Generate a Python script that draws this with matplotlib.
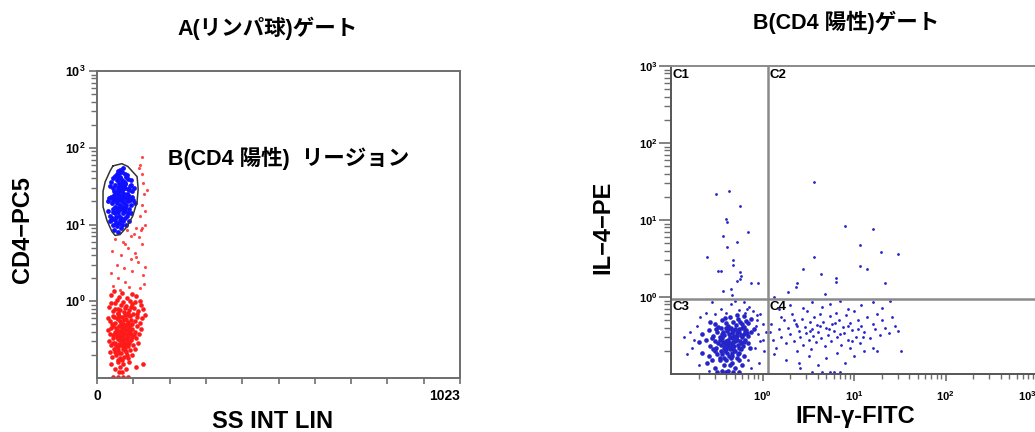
import numpy as np
import matplotlib
matplotlib.use("Agg")
from matplotlib import pyplot as plt
from matplotlib.ticker import FixedLocator, NullFormatter

plt.rcParams['font.family'] = ['Liberation Sans', 'Noto Sans CJK JP', 'DejaVu Sans']
plt.rcParams['font.weight'] = 'bold'
plt.rcParams['mathtext.fontset'] = 'custom'
plt.rcParams['mathtext.rm'] = 'Liberation Sans:bold'
plt.rcParams['mathtext.bf'] = 'Liberation Sans:bold'

# ---- panel A : SS INT LIN vs CD4-PC5 ----
title_a = "A(リンパ球)ゲート"
xlabel_a = "SS INT LIN"
ylabel_a = "CD4\u2212PC5"
region_label = "B(CD4 陽性)  リージョン"
xticks_a = [0, 102.3, 204.6, 306.9, 409.2, 511.5, 613.8, 716.1, 818.4, 920.7, 1023]
xticklabels_a = ["0", "", "", "", "", "", "", "", "", "", "1023"]
log_ticks = [1, 10, 100, 1000]
log_ticklabels = [r"$\mathbf{10^{0}}$", r"$\mathbf{10^{1}}$", r"$\mathbf{10^{2}}$", r"$\mathbf{10^{3}}$"]

# gate polygon drawn around the CD4+ cells
gate_b = [(45, 58), (70, 62), (87, 57), (113, 42), (116, 29), (113, 20), (101, 13),
          (85, 9.4), (65, 7.4), (51, 7.2), (42, 8.1), (28, 11.3), (17, 17), (17, 27),
          (23, 36), (37, 50), (45, 58)]

# CD4 positive events (blue)
cd4_pos = [
    (60, 50), (70, 48), (78, 46), (55, 45), (66, 52), (85, 44), (74, 54), (62, 47),
    (45, 40), (55, 38), (66, 42), (76, 36), (88, 39), (50, 43), (62, 35), (82, 41),
    (72, 37), (40, 36), (95, 38), (58, 41), (68, 39), (80, 35),
    (45, 30), (52, 33), (60, 28), (68, 31), (74, 26), (80, 34), (86, 29), (92, 32),
    (100, 27), (104, 30), (56, 26), (64, 34), (72, 29), (84, 25), (96, 33), (48, 27),
    (78, 30), (90, 28), (62, 31), (70, 33), (38, 32), (58, 30), (66, 27), (76, 32),
    (35, 22), (42, 19), (48, 24), (54, 20), (58, 23), (64, 18), (68, 21), (72, 24),
    (76, 19), (80, 22), (86, 20), (90, 23), (96, 18), (102, 21), (108, 19), (40, 23),
    (50, 17), (60, 21), (70, 20), (82, 18), (88, 24), (94, 21), (62, 24), (74, 22),
    (56, 19), (46, 21), (66, 23), (78, 17), (84, 21), (98, 23), (30, 20), (52, 22),
    (32, 15), (38, 13), (44, 16), (50, 14), (56, 15), (62, 13), (66, 16), (72, 14),
    (78, 15), (84, 13), (90, 16), (96, 14), (42, 12), (54, 12.5), (68, 12), (80, 16.5),
    (58, 16.5), (74, 15.5), (46, 14.5), (88, 14), (60, 14.5), (70, 17),
    (36, 11), (44, 10), (50, 11.5), (56, 9.5), (62, 10.5), (68, 9), (74, 11), (82, 10),
    (90, 11), (48, 8.5), (60, 8), (70, 10), (78, 12), (40, 11.5), (64, 11.5), (54, 10.5),
]

# CD4 negative events (red), dense lower population
cd4_neg = [
    (40, 1.2), (55, 1.05), (70, 1.3), (85, 1.1), (100, 1.25), (120, 1.0), (62, 1.15),
    (48, 1.35), (92, 1.02), (110, 1.18),
    (35, 0.85), (45, 0.75), (52, 0.95), (60, 0.8), (68, 0.9), (75, 0.72), (82, 0.88),
    (90, 0.78), (98, 0.93), (105, 0.82), (115, 0.74), (125, 0.9), (130, 0.8), (40, 0.95),
    (58, 0.7), (72, 0.98), (88, 0.7), (108, 0.97), (64, 0.76), (95, 0.85), (50, 0.8),
    (78, 0.82),
    (30, 0.6), (38, 0.55), (44, 0.65), (50, 0.52), (55, 0.6), (60, 0.68), (65, 0.55),
    (70, 0.62), (74, 0.5), (78, 0.66), (82, 0.58), (88, 0.53), (92, 0.64), (97, 0.57),
    (102, 0.69), (108, 0.55), (114, 0.62), (120, 0.52), (128, 0.6), (134, 0.66),
    (42, 0.5), (58, 0.58), (68, 0.52), (76, 0.57), (86, 0.67), (100, 0.5), (112, 0.68),
    (48, 0.62), (62, 0.64), (84, 0.51),
    (32, 0.42), (38, 0.38), (44, 0.47), (50, 0.4), (54, 0.45), (58, 0.36), (62, 0.48),
    (66, 0.41), (70, 0.37), (72, 0.44), (76, 0.39), (80, 0.46), (84, 0.36), (88, 0.42),
    (92, 0.49), (96, 0.38), (100, 0.44), (106, 0.4), (112, 0.47), (118, 0.37),
    (124, 0.43), (46, 0.36), (56, 0.42), (64, 0.38), (68, 0.46), (74, 0.35), (78, 0.42),
    (82, 0.49), (86, 0.39), (90, 0.45), (60, 0.4), (52, 0.37), (94, 0.41), (70, 0.49),
    (104, 0.36), (40, 0.45),
    (34, 0.3), (40, 0.27), (46, 0.33), (50, 0.29), (54, 0.26), (58, 0.32), (62, 0.28),
    (66, 0.34), (70, 0.3), (74, 0.26), (78, 0.32), (82, 0.28), (86, 0.34), (90, 0.29),
    (96, 0.31), (102, 0.27), (110, 0.33), (116, 0.29), (60, 0.25), (72, 0.33),
    (80, 0.25), (64, 0.31), (56, 0.34), (76, 0.29), (88, 0.26), (44, 0.29), (68, 0.27),
    (84, 0.31), (98, 0.34),
    (36, 0.22), (42, 0.19), (48, 0.24), (54, 0.2), (60, 0.23), (64, 0.18), (68, 0.21),
    (72, 0.24), (76, 0.19), (82, 0.22), (88, 0.18), (94, 0.23), (100, 0.2), (108, 0.24),
    (58, 0.17), (70, 0.17), (84, 0.2), (52, 0.22), (78, 0.23), (62, 0.21),
    (40, 0.15), (50, 0.13), (58, 0.16), (66, 0.14), (74, 0.15), (82, 0.13), (90, 0.16),
    (110, 0.14), (62, 0.12), (70, 0.12), (130, 0.15),
    (45, 0.102), (58, 0.102), (72, 0.102), (88, 0.102),
]

# sparse red events between and around the two populations
cd4_mid = [
    (45, 1.6), (60, 2.0), (80, 1.8), (100, 2.5), (120, 1.5), (130, 2.2), (55, 3.0),
    (75, 2.7), (95, 3.5), (115, 3.2), (135, 2.8), (42, 4.5), (68, 4.0), (88, 5.0),
    (108, 4.2), (126, 5.5), (50, 6.5), (72, 6.0), (96, 7.0), (118, 6.8), (60, 8.0),
    (85, 8.5), (105, 7.5), (128, 9.0), (40, 2.3), (132, 1.7), (65, 1.4), (90, 1.55),
    (110, 3.8), (78, 5.5),
    (122, 13), (128, 18), (132, 25), (130, 35), (126, 45), (118, 55), (135, 15),
    (140, 28), (125, 8.5), (136, 10), (127, 75), (110, 9), (120, 60),
]

# ---- panel B : IFN-gamma-FITC vs IL-4-PE ----
title_b = "B(CD4 陽性)ゲート"
xlabel_b = "IFN-\u03b3-FITC"
ylabel_b = "IL\u22124\u2212PE"
quad_x = 1.15
quad_y = 0.95
quad_names = ["C1", "C2", "C3", "C4"]

# dense double negative core of C3
c3_core = [
    (0.30, 0.45), (0.36, 0.50), (0.42, 0.42), (0.48, 0.47), (0.54, 0.52), (0.60, 0.44),
    (0.66, 0.49), (0.33, 0.41), (0.39, 0.54), (0.45, 0.40), (0.51, 0.43), (0.57, 0.48),
    (0.63, 0.41), (0.70, 0.46), (0.27, 0.48), (0.44, 0.55), (0.52, 0.58), (0.62, 0.56),
    (0.75, 0.52), (0.40, 0.46),
    (0.22, 0.33), (0.26, 0.37), (0.29, 0.31), (0.32, 0.35), (0.35, 0.39), (0.38, 0.32),
    (0.41, 0.36), (0.44, 0.30), (0.47, 0.34), (0.50, 0.38), (0.53, 0.31), (0.56, 0.35),
    (0.59, 0.39), (0.62, 0.33), (0.66, 0.37), (0.70, 0.31), (0.74, 0.35), (0.80, 0.38),
    (0.34, 0.30), (0.40, 0.39), (0.46, 0.37), (0.52, 0.34), (0.58, 0.32), (0.64, 0.36),
    (0.37, 0.35), (0.43, 0.33), (0.49, 0.31), (0.55, 0.38), (0.31, 0.38), (0.68, 0.34),
    (0.48, 0.36), (0.42, 0.38), (0.54, 0.36), (0.60, 0.30), (0.36, 0.33),
    (0.20, 0.26), (0.24, 0.28), (0.27, 0.23), (0.30, 0.27), (0.33, 0.25), (0.36, 0.29),
    (0.39, 0.24), (0.42, 0.28), (0.45, 0.22), (0.48, 0.26), (0.51, 0.29), (0.54, 0.24),
    (0.57, 0.27), (0.61, 0.23), (0.65, 0.28), (0.69, 0.25), (0.73, 0.22), (0.31, 0.22),
    (0.35, 0.24), (0.40, 0.27), (0.44, 0.25), (0.49, 0.23), (0.53, 0.28), (0.58, 0.25),
    (0.38, 0.22), (0.46, 0.29), (0.34, 0.28), (0.42, 0.23), (0.50, 0.27), (0.55, 0.22),
    (0.28, 0.29), (0.62, 0.26), (0.47, 0.24), (0.37, 0.26), (0.41, 0.25),
    (0.22, 0.19), (0.26, 0.17), (0.29, 0.21), (0.32, 0.18), (0.35, 0.20), (0.38, 0.16),
    (0.41, 0.19), (0.44, 0.21), (0.47, 0.17), (0.50, 0.20), (0.54, 0.18), (0.58, 0.21),
    (0.63, 0.17), (0.34, 0.16), (0.40, 0.21), (0.46, 0.19), (0.52, 0.16), (0.30, 0.20),
    (0.36, 0.18), (0.43, 0.17), (0.48, 0.21), (0.56, 0.19), (0.39, 0.20), (0.45, 0.16),
    (0.25, 0.14), (0.30, 0.12), (0.34, 0.15), (0.38, 0.13), (0.42, 0.11), (0.46, 0.14),
    (0.50, 0.12), (0.55, 0.15), (0.36, 0.11), (0.44, 0.13), (0.40, 0.15), (0.32, 0.105),
    (0.40, 0.105), (0.48, 0.105), (0.56, 0.105), (0.60, 0.13), (0.28, 0.15),
]

# scattered events around the C3 core
c3_outer = [
    (0.16, 0.35), (0.18, 0.28), (0.17, 0.22), (0.19, 0.42), (0.21, 0.55), (0.24, 0.62),
    (0.85, 0.42), (0.90, 0.33), (0.95, 0.27), (1.00, 0.45), (1.05, 0.20), (0.88, 0.58),
    (0.78, 0.65), (0.35, 0.70), (0.45, 0.80), (0.55, 0.68), (0.62, 0.85), (0.72, 0.75),
    (0.28, 0.85), (0.82, 0.22), (0.70, 0.15), (0.20, 0.13), (0.92, 0.14), (1.08, 0.35),
    (0.50, 0.90), (0.40, 0.62), (0.65, 0.62), (0.14, 0.30), (0.15, 0.18), (0.86, 0.50),
    (0.95, 0.60), (0.75, 0.12), (0.26, 0.11), (1.02, 0.28), (0.30, 0.60), (0.68, 0.70),
]

c4_pts = [
    (1.2, 0.35), (1.3, 0.28), (1.25, 0.45), (1.4, 0.22), (1.5, 0.38), (1.6, 0.3),
    (1.7, 0.5), (1.8, 0.25), (1.9, 0.4), (2.0, 0.33), (2.1, 0.6), (2.2, 0.27),
    (2.3, 0.45), (2.4, 0.2), (2.5, 0.36), (2.6, 0.3), (2.7, 0.52), (2.8, 0.24),
    (2.9, 0.41), (3.0, 0.34), (3.1, 0.65), (3.2, 0.28), (3.3, 0.47), (3.4, 0.21),
    (3.5, 0.38), (3.6, 0.31), (3.7, 0.55), (3.8, 0.26), (3.9, 0.43), (4.0, 0.35),
    (4.2, 0.6), (4.4, 0.29), (4.6, 0.48), (4.8, 0.23), (5.0, 0.4), (5.2, 0.32),
    (5.4, 0.56), (5.6, 0.27), (5.8, 0.44), (6.0, 0.36), (6.3, 0.62), (6.6, 0.3),
    (6.9, 0.5), (7.2, 0.24), (7.5, 0.41), (7.8, 0.34), (8.1, 0.58), (8.5, 0.28),
    (9.0, 0.46), (9.5, 0.37), (10, 0.65), (10.5, 0.3), (11, 0.5), (11.5, 0.25),
    (12, 0.42), (13, 0.35), (14, 0.55), (15, 0.29), (16, 0.45), (17, 0.38), (18, 0.6),
    (19, 0.32), (20, 0.5), (22, 0.4), (24, 0.34), (26, 0.55), (28, 0.42), (30, 0.36),
    (1.35, 0.18), (1.8, 0.15), (2.5, 0.14), (3.2, 0.17), (4.0, 0.13), (5.0, 0.16),
    (6.5, 0.19), (8.0, 0.14), (10, 0.17), (13, 0.2), (3.5, 0.105), (4.5, 0.105),
    (5.5, 0.105), (7.0, 0.105), (6.0, 0.105), (2.6, 0.12), (9.0, 0.22), (16, 0.22),
    (1.5, 0.7), (2.0, 0.78), (2.8, 0.72), (3.5, 0.85), (4.5, 0.75), (5.5, 0.82),
    (7.0, 0.9), (8.5, 0.7), (12, 0.78), (16, 0.85), (20, 0.72), (25, 0.88),
    (4.2, 0.42), (5.3, 0.38), (6.2, 0.46), (3.3, 0.36), (2.4, 0.42), (7.0, 0.33),
    (8.5, 0.42), (11, 0.38), (1.6, 0.55), (2.2, 0.5), (9.6, 0.27), (12.5, 0.3),
    (33, 0.2), (18, 0.2),
]

c1_pts = [
    (0.31, 22), (0.43, 24), (0.57, 15), (0.40, 10.3), (0.41, 9.4), (0.70, 7.0),
    (0.37, 6.2), (0.52, 5.2), (0.41, 4.5), (0.25, 3.3), (0.48, 3.0), (0.48, 2.6),
    (0.33, 2.2), (0.35, 2.2), (0.57, 2.1), (0.58, 1.9), (0.53, 1.6), (0.74, 1.5),
    (0.90, 1.5), (0.45, 1.27), (0.37, 1.2), (0.47, 1.05), (0.57, 1.7),
]

c2_pts = [
    (3.7, 31), (7.9, 8.4), (16, 7.6), (11.5, 4.7), (19.5, 3.8), (30, 3.6), (3.7, 3.3),
    (11.5, 2.5), (14, 2.3), (4.4, 2.0), (6.3, 1.76), (6.3, 1.55), (22, 1.5), (2.4, 1.5),
    (2.3, 1.35), (1.9, 1.15), (4.8, 1.1), (1.35, 1.0), (2.8, 2.3),
]

spine_gray = "#6e6e6e"
quad_gray = "#8a8a8a"
red = "#ff1a1a"
blue = "#1010ff"
navy = "#2424c8"


def style_log_axis(axis):
    axis.set_major_locator(FixedLocator(log_ticks))
    axis.set_ticklabels(log_ticklabels)
    axis.set_minor_formatter(NullFormatter())


fig = plt.figure(figsize=(10.35, 4.32), dpi=100)

# ---------------- panel A ----------------
ax1 = fig.add_axes([97 / 1035, 54 / 432, 363 / 1035, 307 / 432])
ax1.set_xlim(0, 1023)
ax1.set_yscale("log")
ax1.set_ylim(0.1, 1000)

pts = np.array(cd4_neg)
ax1.scatter(pts[:, 0], pts[:, 1], s=11, c=red, linewidths=0)
pts = np.array(cd4_mid)
ax1.scatter(pts[:, 0], pts[:, 1], s=5, c=red, linewidths=0, alpha=0.8)
pts = np.array(cd4_pos)
ax1.scatter(pts[:, 0], pts[:, 1], s=12, c=blue, linewidths=0)
gate = np.array(gate_b)
ax1.plot(gate[:, 0], gate[:, 1], color="#333333", lw=1.1)

ax1.text(200, 72, region_label, fontsize=15.5, fontweight="bold", va="center", ha="left")

ax1.set_xticks(xticks_a)
ax1.set_xticklabels(xticklabels_a)
ax1.get_xticklabels()[-1].set_ha("right")
style_log_axis(ax1.yaxis)
ax1.tick_params(axis="x", length=4, width=1.2, color=spine_gray, labelsize=10, pad=4)
ax1.tick_params(axis="y", which="major", length=6, width=1.2, color=spine_gray,
                labelsize=9, pad=2)
ax1.tick_params(axis="y", which="minor", length=4, width=1.0, color=spine_gray)
for sp in ax1.spines.values():
    sp.set_color(spine_gray)
    sp.set_linewidth(1.4)

fig.text(268 / 1035, 1 - 28 / 432, title_a, fontsize=15.5, fontweight="bold",
         ha="center", va="center")
fig.text(273 / 1035, 1 - 421 / 432, xlabel_a, fontsize=17, fontweight="bold",
         ha="center", va="center")
fig.text(23 / 1035, 1 - 230 / 432, ylabel_a, fontsize=17, fontweight="bold",
         ha="center", va="center", rotation=90)

# ---------------- panel B ----------------
ax2 = fig.add_axes([671 / 1035, 58 / 432, 366 / 1035, 308 / 432])
ax2.set_xscale("log")
ax2.set_yscale("log")
ax2.set_xlim(0.1, 1000)
ax2.set_ylim(0.1, 1000)

pts = np.array(c3_core)
ax2.scatter(pts[:, 0], pts[:, 1], s=11, c=navy, linewidths=0)
for group in (c3_outer, c4_pts, c1_pts, c2_pts):
    pts = np.array(group)
    ax2.scatter(pts[:, 0], pts[:, 1], s=4, c=navy, linewidths=0)

ax2.axvline(quad_x, color=quad_gray, lw=1.8)
ax2.axhline(quad_y, color=quad_gray, lw=1.8)

lab_kw = dict(fontsize=9.5, fontweight="bold", textcoords="offset points", va="top", ha="left")
ax2.annotate(quad_names[0], (0.1, 1000), xytext=(1, -2), **lab_kw)
ax2.annotate(quad_names[1], (quad_x, 1000), xytext=(1, -2), **lab_kw)
ax2.annotate(quad_names[2], (0.1, quad_y), xytext=(1, -2), **lab_kw)
ax2.annotate(quad_names[3], (quad_x, quad_y), xytext=(1, -2), **lab_kw)

style_log_axis(ax2.xaxis)
style_log_axis(ax2.yaxis)
ax2.get_xticklabels()[-1].set_ha("right")
ax2.tick_params(axis="both", which="both", color=spine_gray)
ax2.tick_params(axis="x", which="major", length=5, width=1.2, labelsize=8, pad=6)
ax2.tick_params(axis="x", which="minor", length=3.5, width=1.0)
ax2.tick_params(axis="y", which="major", length=8.5, width=1.2, labelsize=8, pad=1)
ax2.tick_params(axis="y", which="minor", length=5, width=1.0)
for sp in ax2.spines.values():
    sp.set_linewidth(1.4)
ax2.spines["left"].set_color("#555555")
ax2.spines["bottom"].set_color("#555555")
ax2.spines["top"].set_color(quad_gray)
ax2.spines["right"].set_color(quad_gray)

fig.text(846 / 1035, 1 - 22 / 432, title_b, fontsize=15.5, fontweight="bold",
         ha="center", va="center")
fig.text(855 / 1035, 1 - 417 / 432, xlabel_b, fontsize=17, fontweight="bold",
         ha="center", va="center")
fig.text(603 / 1035, 1 - 227 / 432, ylabel_b, fontsize=17, fontweight="bold",
         ha="center", va="center", rotation=90)

fig.savefig("out.png", dpi=100)
